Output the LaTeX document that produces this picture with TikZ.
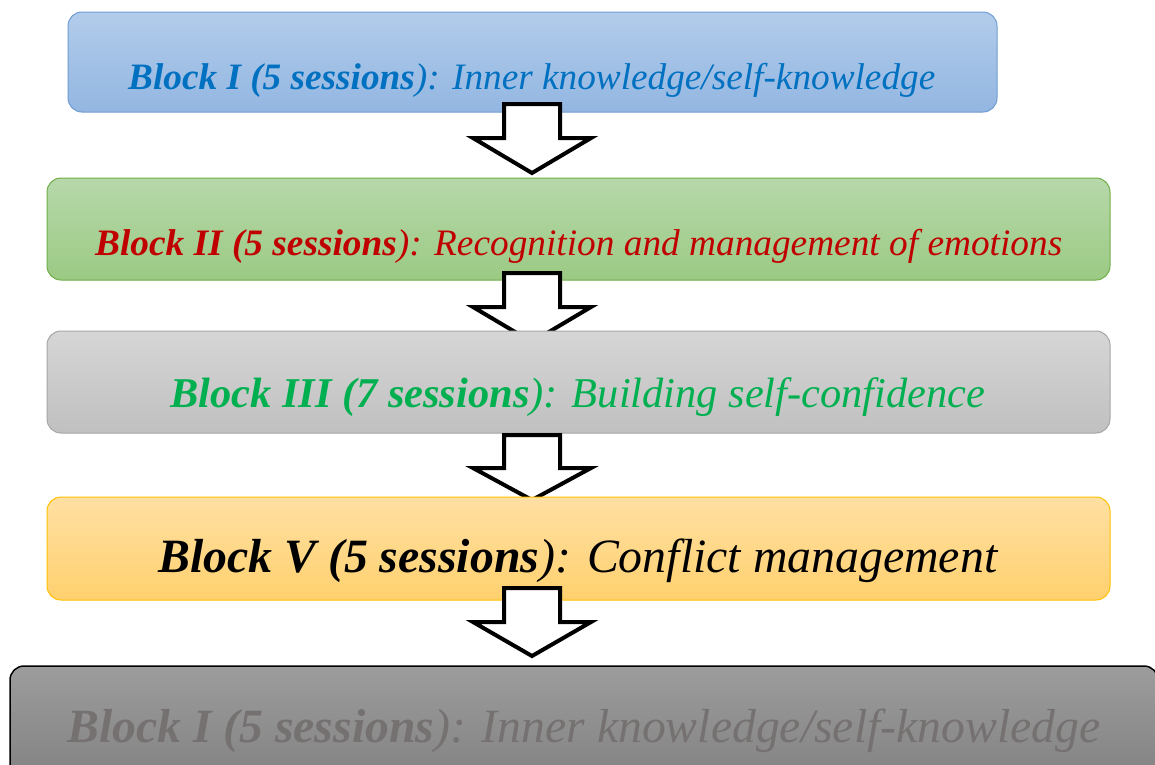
\documentclass[tikz,border=0pt]{standalone}
\usepackage{fontspec}
\setmainfont{Liberation Serif}
\usepackage{graphicx}
\definecolor{b1top}{HTML}{B2CCEB}
\definecolor{b1bot}{HTML}{93B6E1}
\definecolor{b1line}{HTML}{6E9CD2}
\definecolor{t1col}{HTML}{0070C0}
\definecolor{b2top}{HTML}{B7D8AA}
\definecolor{b2bot}{HTML}{9BCA84}
\definecolor{b2line}{HTML}{70AD47}
\definecolor{t2col}{HTML}{C00000}
\definecolor{b3top}{HTML}{D6D6D6}
\definecolor{b3bot}{HTML}{C0C0C0}
\definecolor{b3line}{HTML}{A5A5A5}
\definecolor{t3col}{HTML}{00B050}
\definecolor{b4top}{HTML}{FFE0A3}
\definecolor{b4bot}{HTML}{FFD06E}
\definecolor{b4line}{HTML}{FFC000}
\definecolor{b5top}{HTML}{9C9C9C}
\definecolor{b5bot}{HTML}{7E7E7E}
\definecolor{t5col}{HTML}{767171}
\tikzset{
  box/.style={rounded corners=14pt, line width=1pt, inner sep=0pt},
  blockarrow/.style={draw=black, fill=white, line width=4pt, line join=miter},
  lbl/.style={anchor=base west, inner sep=0pt},
}
\newcommand{\blk}[3]{\resizebox{#1}{!}{\fontsize{36pt}{40pt}\selectfont\textbf{\textit{#2}}\textit{#3}}}
\newcommand{\bigarrow}[3]{\draw[blockarrow] (504,#1) -- (560,#1) -- (560,#2) -- (591,#2) -- (532,#3) -- (473,#2) -- (504,#2) -- cycle;}
\begin{document}
\begin{tikzpicture}[x=1pt,y=-1pt]
\useasboundingbox (0,0) rectangle (1155,764);
% Block 1
\node[box, draw=b1line, top color=b1top, bottom color=b1bot, minimum width=929pt, minimum height=100pt] (b1) at (532.5,62) {};
\node[lbl, text=t1col] (t1) at (128,89) {\blk{807pt}{Block I (5 sessions}{): Inner knowledge/self-knowledge}};
\bigarrow{104}{138}{173}
% Block 2
\node[box, draw=b2line, top color=b2top, bottom color=b2bot, minimum width=1063pt, minimum height=102pt] (b2) at (578.5,229) {};
\node[lbl, text=t2col] (t2) at (95,255) {\blk{967pt}{Block II (5 sessions}{): Recognition and management of emotions}};
\bigarrow{273}{307}{342}
% Block 3
\node[box, draw=b3line, top color=b3top, bottom color=b3bot, minimum width=1063pt, minimum height=102pt] (b3) at (578.5,382) {};
\node[lbl, text=t3col] (t3) at (170,407) {\blk{815pt}{Block III (7 sessions}{): Building self-confidence}};
\bigarrow{435}{468}{500}
% Block 4
\node[box, draw=b4line, top color=b4top, bottom color=b4bot, minimum width=1063pt, minimum height=103pt] (b4) at (578.5,548.5) {};
\node[lbl, text=black] (t4) at (158,572) {\blk{840pt}{Block V (5 sessions}{): Conflict management}};
\bigarrow{588}{622}{656}
% Block 5
\node[box, draw=black, line width=1.5pt, top color=b5top, bottom color=b5bot, minimum width=1148pt, minimum height=134pt] (b5) at (584,733) {};
\node[lbl, text=t5col] (t5) at (67,742) {\blk{1033pt}{Block I (5 sessions}{): Inner knowledge/self-knowledge}};
\end{tikzpicture}
\end{document}
